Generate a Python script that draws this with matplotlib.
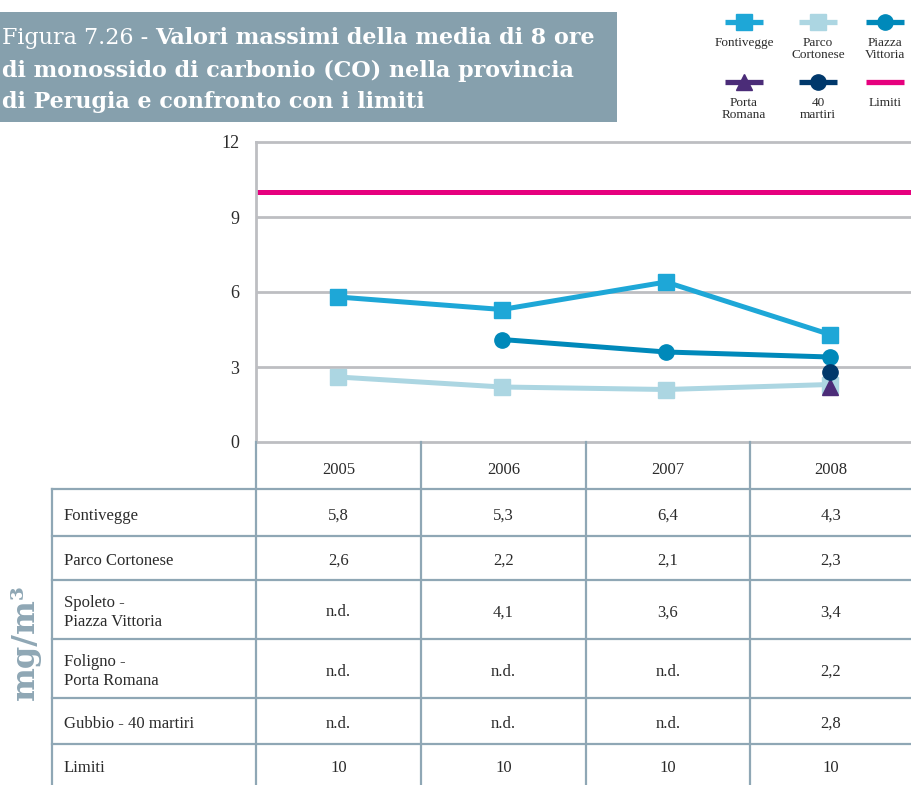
import numpy as np
import matplotlib
matplotlib.use('Agg')
import matplotlib.pyplot as plt
from matplotlib.patches import Rectangle

# data
years = ['2005', '2006', '2007', '2008']
row_labels = ['Fontivegge', 'Parco Cortonese', 'Spoleto -\nPiazza Vittoria',
              'Foligno -\nPorta Romana', 'Gubbio - 40 martiri', 'Limiti']
fontivegge = [5.8, 5.3, 6.4, 4.3]
parco_cortonese = [2.6, 2.2, 2.1, 2.3]
piazza_vittoria = [np.nan, 4.1, 3.6, 3.4]
porta_romana = [np.nan, np.nan, np.nan, 2.2]
martiri_40 = [np.nan, np.nan, np.nan, 2.8]
limiti = [10, 10, 10, 10]
yticks = [0, 3, 6, 9, 12]
legend_labels = ['Fontivegge', 'Parco\nCortonese', 'Piazza\nVittoria',
                 'Porta\nRomana', '40\nmartiri', 'Limiti']

c_font = '#1ea7d7'
c_parco = '#acd6e2'
c_vitt = '#0089ba'
c_porta = '#4b2c78'
c_mart = '#00386b'
c_lim = '#e6007e'
c_box = '#86a0ad'
c_tab = '#8fa7b5'
c_grid = '#bdbec2'
c_txt = '#2b2b2b'

serif = ['Liberation Serif', 'DejaVu Serif']
slab = ['DejaVu Serif']

W, H = 912, 785
fig = plt.figure(figsize=(W / 100, H / 100), dpi=100)

# chart
ax = fig.add_axes([256 / W, 1 - 442 / H, (W - 256) / W, 300 / H])
x = np.arange(len(years))
ax.hlines(limiti[0], -0.5, 3.5, color=c_lim, lw=3.6, zorder=2)
ax.plot(x, parco_cortonese, color=c_parco, lw=3.6, marker='s', ms=12, zorder=3)
ax.plot(x, fontivegge, color=c_font, lw=3.6, marker='s', ms=12, zorder=4)
ax.plot(x, porta_romana, color=c_porta, lw=3.6, marker='^', ms=11, zorder=5)
ax.plot(x, piazza_vittoria, color=c_vitt, lw=3.6, marker='o', ms=11, zorder=5)
ax.plot(x, martiri_40, color=c_mart, lw=3.6, marker='o', ms=11, zorder=6)

ax.set_xlim(-0.5, 3.5)
ax.set_ylim(0, 12)
ax.set_yticks(yticks)
ax.set_yticklabels([str(v) for v in yticks], fontfamily=serif, fontsize=13, color=c_txt)
ax.set_xticks([])
ax.tick_params(axis='y', length=0, pad=12)
for v in yticks[1:-1]:
    ax.axhline(v, color=c_grid, lw=2, zorder=1)
for s in ['left', 'top', 'bottom']:
    ax.spines[s].set_color(c_grid)
    ax.spines[s].set_linewidth(2)
ax.spines['right'].set_visible(False)

# overlay in pixel coordinates
ov = fig.add_axes([0, 0, 1, 1], zorder=5)
ov.set_xlim(0, W)
ov.set_ylim(H, 0)
ov.axis('off')

# title box
ov.add_patch(Rectangle((0, 12), 617, 110, color=c_box, lw=0))
tkw = dict(fontsize=16, color='white', family=slab, va='baseline')
t1 = ov.text(2, 44, 'Figura 7.26 - ', **tkw)
ov.annotate('Valori massimi della media di 8 ore', xy=(1, 0), xycoords=t1,
            fontsize=16, color='white', family=slab, fontweight='bold', va='bottom')
ov.text(2, 77, 'di monossido di carbonio (CO) nella provincia', fontweight='bold', **tkw)
ov.text(2, 108, 'di Perugia e confronto con i limiti', fontweight='bold', **tkw)

# legend
leg_styles = [(c_font, 's', 11), (c_parco, 's', 11), (c_vitt, 'o', 11),
              (c_porta, '^', 11), (c_mart, 'o', 11), (c_lim, None, 0)]
leg_cx = [744, 818, 885]
leg_cy = [22, 82]
for i, (lab, (col, mk, ms)) in enumerate(zip(legend_labels, leg_styles)):
    cx = leg_cx[i % 3]
    cy = leg_cy[i // 3]
    ov.plot([cx - 19, cx + 19], [cy, cy], color=col, lw=3.8, solid_capstyle='butt')
    if mk:
        ov.plot([cx], [cy], color=col, marker=mk, ms=ms)
    ov.text(cx, cy + 15, lab, ha='center', va='top', fontsize=9.5, family=serif,
            color=c_txt, linespacing=0.95)

# table
row_y = [442, 489, 536, 580, 639, 698, 744, 785]
col_x = [52, 256, 421, 586, 750, 912]
for yy in row_y[1:-1]:
    ov.plot([col_x[0], W], [yy, yy], color=c_tab, lw=1.6)
ov.plot([col_x[0], col_x[0]], [row_y[1], H], color=c_tab, lw=1.6)
for xx in col_x[1:-1]:
    ov.plot([xx, xx], [row_y[0], H], color=c_tab, lw=1.6)

for j, yr in enumerate(years):
    ov.text((col_x[j + 1] + col_x[j + 2]) / 2, (row_y[0] + row_y[1]) / 2 + 5, yr,
            ha='center', va='center', fontsize=12, family=serif, color=c_txt)

series = [fontivegge, parco_cortonese, piazza_vittoria, porta_romana, martiri_40, limiti]
for i, (lab, vals) in enumerate(zip(row_labels, series)):
    yc = (row_y[i + 1] + row_y[i + 2]) / 2 + 3
    ov.text(col_x[0] + 12, yc, lab, ha='left', va='center', fontsize=12,
            family=serif, color=c_txt, linespacing=1.2)
    for j, v in enumerate(vals):
        if np.isnan(v):
            s = 'n.d.'
        elif lab == 'Limiti':
            s = str(int(v))
        else:
            s = f'{v:.1f}'.replace('.', ',')
        ov.text((col_x[j + 1] + col_x[j + 2]) / 2, yc, s, ha='center', va='center',
                fontsize=12, family=serif, color=c_txt)

ov.text(25, 642, 'mg/m³', rotation=90, ha='center', va='center', fontsize=23,
        fontweight='bold', family=slab, color=c_tab)

fig.savefig('out.png', dpi=100)
